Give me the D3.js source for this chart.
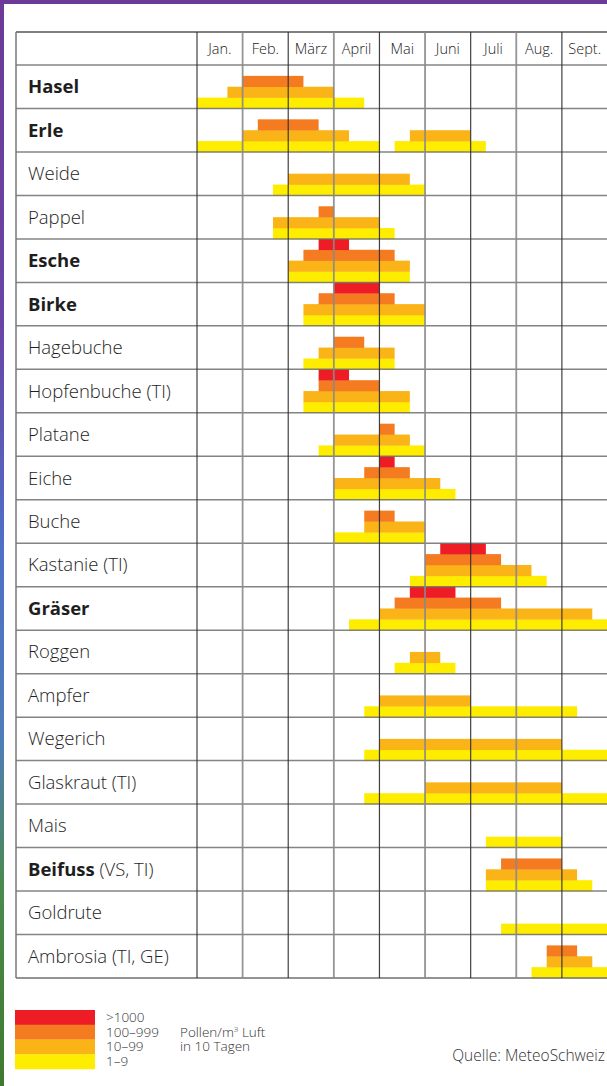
<!DOCTYPE html>
<html>
<head>
<meta charset="utf-8">
<script src="https://cdn.jsdelivr.net/npm/d3@7"></script>
<style>
  body { margin: 0; background: #fff; }
  svg { display: block; font-family: "Open Sans", "Noto Sans", sans-serif; }
</style>
</head>
<body>
<svg id="chart" width="607" height="1086"></svg>
<script>
// months, each split into 3 decades (10-day periods)
const months = ["Jan.", "Feb.", "März", "April", "Mai", "Juni", "Juli", "Aug.", "Sept."];

const plants = ["Hasel", "Erle", "Weide", "Pappel", "Esche", "Birke", "Hagebuche",
  "Hopfenbuche (TI)", "Platane", "Eiche", "Buche", "Kastanie (TI)", "Gräser", "Roggen",
  "Ampfer", "Wegerich", "Glaskraut (TI)", "Mais", "Beifuss", "Goldrute", "Ambrosia (TI, GE)"];
const boldPlants = ["Hasel", "Erle", "Esche", "Birke", "Gräser", "Beifuss"];
const plantSuffix = { "Beifuss": " (VS, TI)" };

// segments [startDecade, endDecade) per plant, one array per level
const level1to9 = [[[0, 11]], [[0, 12], [13, 19]], [[5, 15]], [[5, 13]], [[6, 14]], [[7, 15]], [[7, 13]],
  [[7, 14]], [[8, 15]], [[9, 17]], [[9, 15]], [[14, 23]], [[10, 27]], [[13, 17]],
  [[11, 25]], [[11, 27]], [[11, 27]], [[19, 24]], [[19, 26]], [[20, 27]], [[22, 27]]];
const level10to99 = [[[2, 9]], [[3, 10], [14, 18]], [[6, 14]], [[5, 12]], [[6, 14]], [[7, 15]], [[8, 13]],
  [[7, 14]], [[9, 14]], [[9, 16]], [[11, 15]], [[15, 22]], [[12, 26]], [[14, 16]],
  [[12, 18]], [[12, 24]], [[15, 24]], [], [[19, 25]], [], [[23, 26]]];
const level100to999 = [[[3, 7]], [[4, 8]], [], [[8, 9]], [[7, 13]], [[8, 13]], [[9, 11]],
  [[8, 12]], [[12, 13]], [[11, 14]], [[11, 13]], [[15, 20]], [[13, 20]], [],
  [], [], [], [], [[20, 24]], [], [[23, 25]]];
const level1000 = [[], [], [], [], [[8, 10]], [[9, 12]], [],
  [[8, 10]], [], [[12, 13]], [], [[16, 19]], [[14, 17]], [],
  [], [], [], [], [], [], []];

const levels = [level1to9, level10to99, level100to999, level1000];
const levelColors = ["#FFED00", "#FBB417", "#F47B20", "#EE1D25"];
const legendLabels = [">1000", "100–999", "10–99", "1–9"];

const svg = d3.select("#chart");

// frame: purple top, coloured left edge
const grad = svg.append("defs").append("linearGradient")
  .attr("id", "edge").attr("x1", 0).attr("y1", 0).attr("x2", 0).attr("y2", 1);
grad.selectAll("stop")
  .data([["0%", "#6C3A98"], ["30%", "#6A45A6"], ["50%", "#4F6FC6"], ["68%", "#4E7EB8"], ["82%", "#4A8A4C"], ["100%", "#3F7A2E"]])
  .join("stop").attr("offset", d => d[0]).attr("stop-color", d => d[1]);
svg.append("rect").attr("x", 0).attr("y", 0).attr("width", 4).attr("height", 1086).attr("fill", "url(#edge)");
svg.append("rect").attr("x", 0).attr("y", 0).attr("width", 607).attr("height", 4).attr("fill", "#6C3A98");

const tableLeft = 16, labelRight = 197, tableRight = 607.5;
const headerTop = 32, headerBottom = 65, tableBottom = 978;

const x = d3.scaleLinear().domain([0, 27]).range([labelRight, tableRight]);
const y = d3.scaleBand().domain(plants).range([headerBottom, tableBottom]);
const levelH = y.bandwidth() / 4;

// bars
const bars = svg.append("g");
levels.forEach((lvl, li) => {
  lvl.forEach((segs, pi) => {
    segs.forEach(s => {
      bars.append("rect")
        .attr("x", x(s[0]))
        .attr("y", y(plants[pi]) + y.bandwidth() - (li + 1) * levelH)
        .attr("width", x(s[1]) - x(s[0]))
        .attr("height", levelH + 0.3)
        .attr("fill", levelColors[li]);
    });
  });
});

// grid
const grid = svg.append("g");
plants.forEach(p => {
  grid.append("line")
    .attr("x1", tableLeft).attr("x2", tableRight)
    .attr("y1", y(p)).attr("y2", y(p))
    .attr("stroke", "#6f6f6f").attr("stroke-width", 1.5).attr("opacity", 0.85);
});
grid.append("line").attr("x1", tableLeft).attr("x2", tableRight)
  .attr("y1", headerTop).attr("y2", headerTop).attr("stroke", "#555").attr("stroke-width", 1.5);
grid.append("line").attr("x1", tableLeft).attr("x2", tableRight)
  .attr("y1", tableBottom).attr("y2", tableBottom).attr("stroke", "#6f6f6f").attr("stroke-width", 1.5);
grid.append("line").attr("x1", tableLeft).attr("x2", tableLeft)
  .attr("y1", headerTop).attr("y2", tableBottom).attr("stroke", "#777").attr("stroke-width", 1.5);
months.forEach((m, i) => {
  grid.append("line")
    .attr("x1", x(i * 3)).attr("x2", x(i * 3))
    .attr("y1", headerTop).attr("y2", tableBottom)
    .attr("stroke", i % 2 === 0 ? "#2e2e2e" : "#8a8a8a")
    .attr("stroke-width", i % 2 === 0 ? 1.2 : 1.8)
    .attr("opacity", 0.9);
});

// month labels
svg.append("g").selectAll("text").data(months).join("text")
  .attr("x", (d, i) => x(i * 3 + 1.5))
  .attr("y", (headerTop + headerBottom) / 2 + 5)
  .attr("text-anchor", "middle")
  .attr("font-size", 14.5)
  .attr("font-weight", 300)
  .attr("fill", "#222")
  .text(d => d);

// plant labels
const labels = svg.append("g").selectAll("text").data(plants).join("text")
  .attr("x", 28)
  .attr("y", d => y(d) + y.bandwidth() / 2 + 6.5)
  .attr("font-size", 18.5)
  .attr("fill", "#1e1e1e");
labels.append("tspan")
  .attr("font-weight", d => boldPlants.includes(d) ? 700 : 300)
  .text(d => d);
labels.filter(d => plantSuffix[d]).append("tspan")
  .attr("font-weight", 300)
  .text(d => plantSuffix[d]);

// legend
const legendColors = levelColors.slice().reverse();
const legend = svg.append("g");
legend.selectAll("rect").data(legendColors).join("rect")
  .attr("x", 15).attr("y", (d, i) => 1010 + i * 14.75)
  .attr("width", 80).attr("height", 15)
  .attr("fill", d => d);
legend.selectAll("text.lvl").data(legendLabels).join("text")
  .attr("class", "lvl")
  .attr("x", 106).attr("y", (d, i) => 1022 + i * 14.6)
  .attr("font-size", 13.5).attr("font-weight", 300).attr("fill", "#333")
  .text(d => d);
const unit = legend.append("text")
  .attr("x", 180).attr("y", 1036.5)
  .attr("font-size", 13.5).attr("font-weight", 300).attr("fill", "#333");
unit.append("tspan").text("Pollen/m");
unit.append("tspan").attr("font-size", 8).attr("dy", -5).text("3");
unit.append("tspan").attr("dy", 5).text(" Luft");
legend.append("text")
  .attr("x", 180).attr("y", 1051)
  .attr("font-size", 13.5).attr("font-weight", 300).attr("fill", "#333")
  .text("in 10 Tagen");

svg.append("text")
  .attr("x", 605).attr("y", 1061)
  .attr("text-anchor", "end")
  .attr("font-size", 15.5).attr("font-weight", 300).attr("fill", "#333")
  .text("Quelle: MeteoSchweiz");
</script>
</body>
</html>
